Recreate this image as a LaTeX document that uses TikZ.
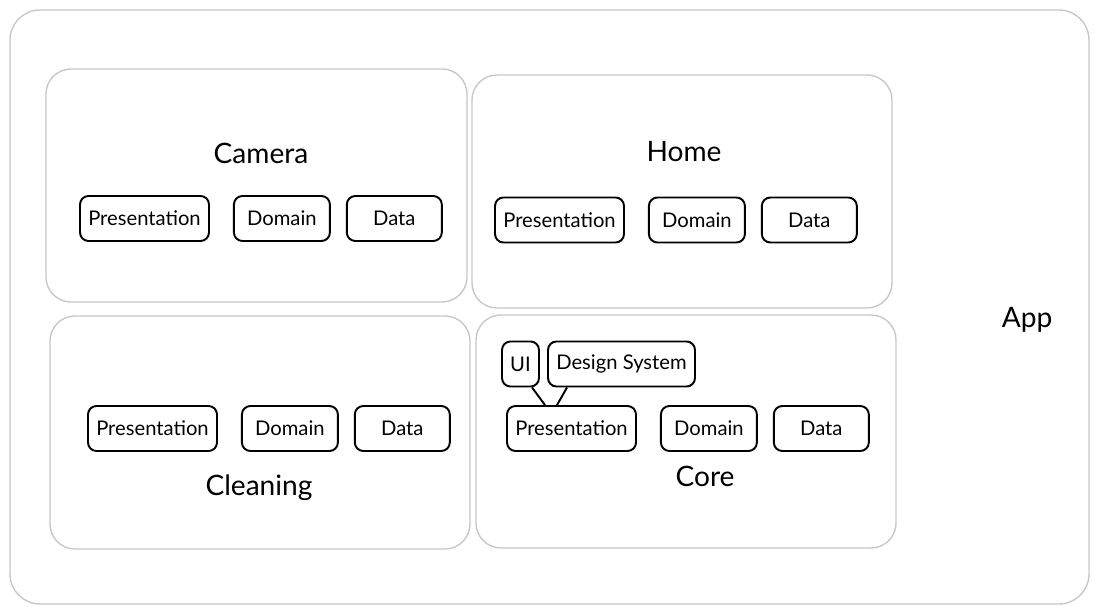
\documentclass[tikz,border=0pt]{standalone}
\usepackage{fontspec}
\setmainfont{Lato}
\usetikzlibrary{positioning}

\definecolor{frame}{HTML}{C8C8C8}

\tikzset{
    module/.style={draw=frame, line width=0.8pt, rounded corners=0.5cm},
    layer/.style={draw, line width=1.1pt, rounded corners=0.17cm, minimum height=0.9cm, inner sep=2pt, font=\fontsize{11.5}{13}\selectfont},
    title/.style={font=\fontsize{16}{18}\selectfont}
}

\begin{document}
\begin{tikzpicture}[x=0.02cm, y=-0.02cm]
    \useasboundingbox (0,0) rectangle (1099,614);

    % frames
    \draw [module, rounded corners=0.6cm] (10,10) rectangle (1089,604);
    \draw [module] (46,69) rectangle (467,302);
    \draw [module] (472,75) rectangle (892,308);
    \draw [module] (50,316) rectangle (470,549);
    \draw [module] (476,315) rectangle (896,548);

    \node [title] (app) at (1027,320) {App};

    % camera
    \node [title] (camera) at (261,153) {Camera};
    \node [layer, minimum width=2.58cm] (campres) at (144.5,218.5) {Presentation};
    \node [layer, minimum width=1.92cm, right=0.46cm of campres] (camdom) {Domain};
    \node [layer, minimum width=1.9cm, right=0.3cm of camdom] (camdata) {Data};

    % home
    \node [title] (home) at (684,152) {Home};
    \node [layer, minimum width=2.58cm] (homepres) at (559.5,220) {Presentation};
    \node [layer, minimum width=1.92cm, right=0.46cm of homepres] (homedom) {Domain};
    \node [layer, minimum width=1.9cm, right=0.3cm of homedom] (homedata) {Data};

    % cleaning
    \node [title] (cleaning) at (259,488) {Cleaning};
    \node [layer, minimum width=2.58cm] (cleanpres) at (152.5,428.5) {Presentation};
    \node [layer, minimum width=1.92cm, right=0.46cm of cleanpres] (cleandom) {Domain};
    \node [layer, minimum width=1.9cm, right=0.3cm of cleandom] (cleandata) {Data};

    % core
    \node [title] (core) at (705,476) {Core};
    \node [layer, minimum width=2.58cm] (corepres) at (571.5,428.5) {Presentation};
    \node [layer, minimum width=1.92cm, right=0.46cm of corepres] (coredom) {Domain};
    \node [layer, minimum width=1.9cm, right=0.3cm of coredom] (coredata) {Data};

    \node [layer, minimum width=0.74cm] (ui) at (520.5,364) {UI};
    \node [layer, minimum width=2.94cm] (design) at (621.5,364) {Design System};

    \draw [line width=1.1pt] ([xshift=0.23cm]ui.south) -- ([xshift=-0.53cm]corepres.north);
    \draw [line width=1.1pt] ([xshift=-1.09cm]design.south) -- ([xshift=-0.29cm]corepres.north);
\end{tikzpicture}
\end{document}
